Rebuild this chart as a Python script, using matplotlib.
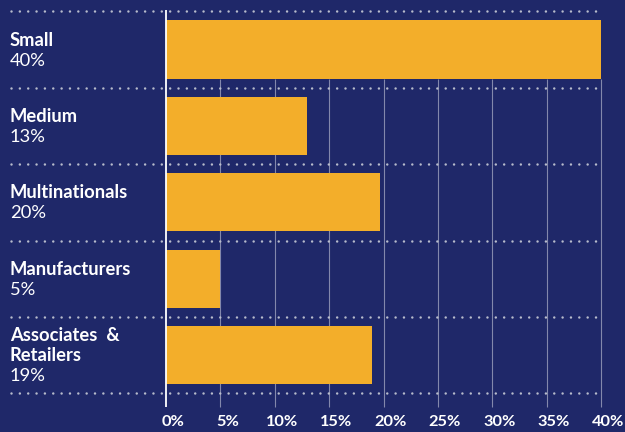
#! /usr/bin/env python3

import numpy as np
import matplotlib
matplotlib.use('Agg')
import matplotlib.pyplot as plt

# data
names = ['Small', 'Medium', 'Multinationals', 'Manufacturers', 'Associates  &\nRetailers']
pct_labels = ['40%', '13%', '20%', '5%', '19%']
values = [40, 13, 19.7, 5, 18.9]
ticks = [0, 5, 10, 15, 20, 25, 30, 35, 40]

bg = '#1f2869'
bar_col = '#f3ae2a'

plt.rcParams['font.family'] = ['Lato', 'DejaVu Sans']

fig = plt.figure(figsize=(6.25, 4.32), dpi=100, facecolor=bg)
ax = fig.add_axes([0, 0, 1, 1])
ax.set_facecolor(bg)
ax.axis('off')

# pixel mapping: 0% at x=166px, 40% at x=601px; rows 76.4px apart, first centred at 49.5px
px_x = 435 / 40
px_y = 76.4
ax.set_xlim(-166 / px_x, (625 - 166) / px_x)
ax.set_ylim((432 - 49.5) / px_y, -49.5 / px_y)

y = np.arange(len(names))

# vertical grid
grid_top = 0.38
grid_bot = (407 - 49.5) / px_y
ax.vlines(ticks[1:], grid_top, grid_bot, color='white', alpha=0.45, lw=0.8, zorder=1)
ax.vlines(0, -39.5 / px_y, grid_bot, color='white', lw=1.3, zorder=4)

# bars
ax.barh(y, values, height=0.76, color=bar_col, zorder=2)

# dotted separators
seps = np.arange(len(names) + 1) - 0.5
ax.hlines(seps, (11 - 166) / px_x, 40, color='#b8bccc', lw=1.8,
          linestyles=[(0, (0.01, 3.33))], capstyle='round', zorder=3)

# row labels
lh = 20 / px_y
for i, (nm, pc) in enumerate(zip(names, pct_labels)):
	lines = nm.split('\n')
	n = len(lines) + 1
	top = i - n * lh / 2 + 2 / px_y
	for k, ln in enumerate(lines):
		ax.text((10 - 166) / px_x, top + 14 / px_y + k * lh, ln, color='white',
		        fontsize=13.2, fontweight='bold', va='baseline', ha='left')
	ax.text((10 - 166) / px_x, top + 14 / px_y + len(lines) * lh, pc, color='white',
	        fontsize=13.2, va='baseline', ha='left')

# tick labels
for t in ticks:
	ax.text(t + 7 / px_x, (426 - 49.5) / px_y, '{}%'.format(t), color='white',
	        fontsize=11.8, fontweight='bold', ha='center', va='baseline')

fig.savefig('out.png', dpi=100, facecolor=bg)
